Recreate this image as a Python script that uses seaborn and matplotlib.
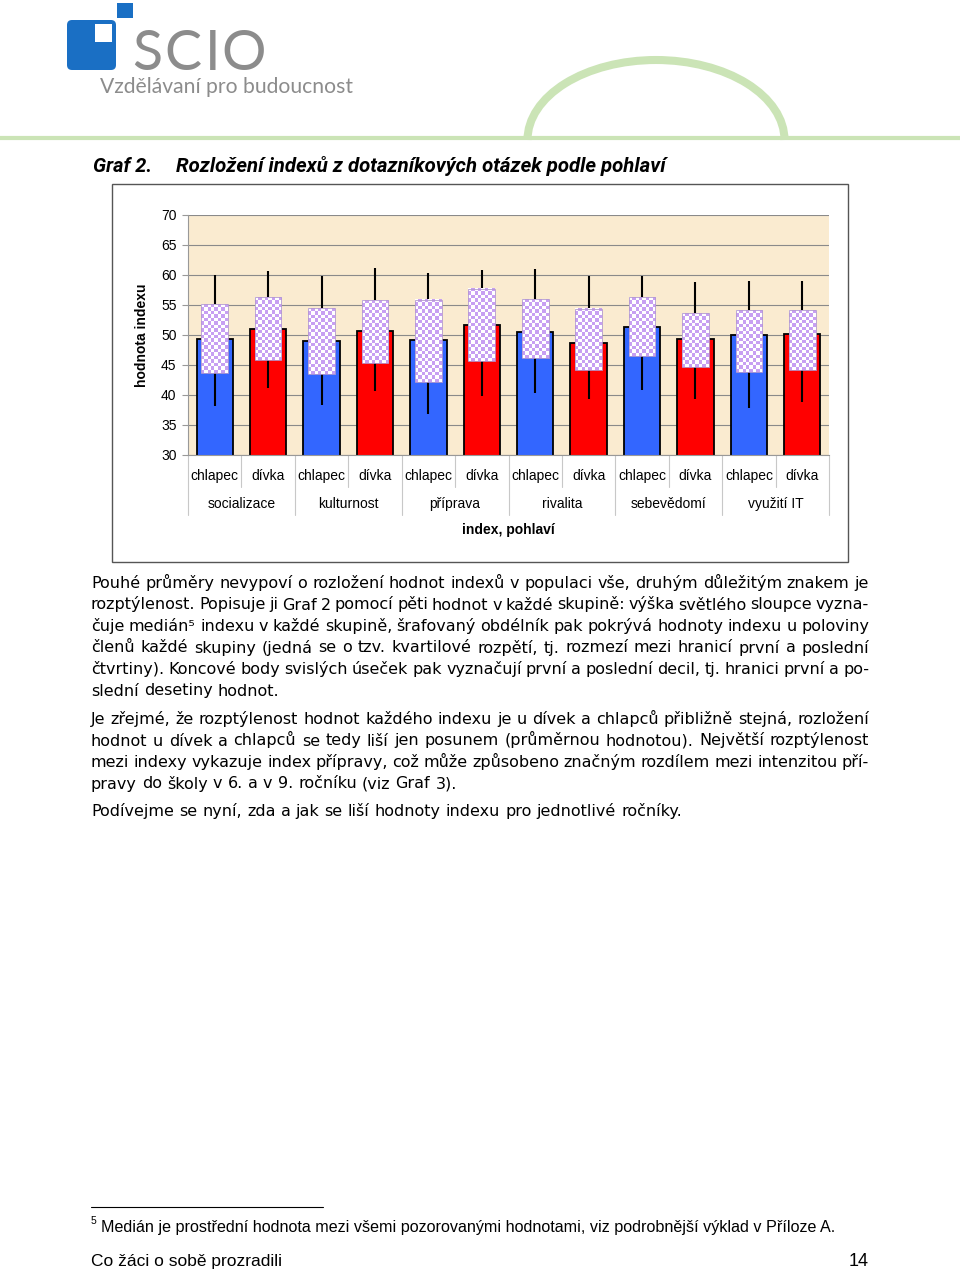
import numpy as np
import pandas as pd
import seaborn as sns
import matplotlib
matplotlib.use('Agg')
import matplotlib.pyplot as plt
from matplotlib import patches, transforms
from matplotlib.colors import ListedColormap

# hodnoty (chlapec, divka pro kazdy index)
skupiny = ['socializace', 'kulturnost', 'příprava', 'rivalita', 'sebevědomí', 'využití IT']
pohlavi = ['chlapec', 'dívka']
median = [49.4, 51.0, 49.0, 50.7, 49.2, 51.7, 50.5, 48.7, 51.3, 49.3, 50.0, 50.2]
kvartil_1 = [43.6, 45.8, 43.5, 45.4, 42.1, 45.6, 46.2, 44.1, 46.5, 44.6, 43.9, 44.2]
kvartil_3 = [55.1, 56.3, 54.5, 55.9, 55.8, 57.7, 56.0, 54.3, 56.3, 53.6, 54.2, 54.2]
decil_1 = [38.1, 41.2, 38.3, 40.6, 36.9, 39.9, 40.4, 39.3, 40.9, 39.3, 37.9, 38.8]
decil_9 = [60.0, 60.7, 59.9, 61.2, 60.4, 60.8, 61.0, 59.8, 59.9, 58.8, 59.0, 59.0]
y_ticks = [30, 35, 40, 45, 50, 55, 60, 65, 70]

odstavec_1 = [
    'Pouhé průměry nevypoví o rozložení hodnot indexů v populaci vše, druhým důležitým znakem je',
    'rozptýlenost. Popisuje ji Graf 2 pomocí pěti hodnot v každé skupině: výška světlého sloupce vyzna-',
    'čuje medián⁵ indexu v každé skupině, šrafovaný obdélník pak pokrývá hodnoty indexu u poloviny',
    'členů každé skupiny (jedná se o tzv. kvartilové rozpětí, tj. rozmezí mezi hranicí první a poslední',
    'čtvrtiny). Koncové body svislých úseček pak vyznačují první a poslední decil, tj. hranici první a po-',
    'slední desetiny hodnot.',
]
odstavec_2 = [
    'Je zřejmé, že rozptýlenost hodnot každého indexu je u dívek a chlapců přibližně stejná, rozložení',
    'hodnot u dívek a chlapců se tedy liší jen posunem (průměrnou hodnotou). Největší rozptýlenost',
    'mezi indexy vykazuje index přípravy, což může způsobeno značným rozdílem mezi intenzitou pří-',
    'pravy do školy v 6. a v 9. ročníku (viz Graf 3).',
]
odstavec_3 = ['Podívejme se nyní, zda a jak se liší hodnoty indexu pro jednotlivé ročníky.']

sns.set_theme(style='white')
plt.rcParams['font.family'] = ['Liberation Sans', 'DejaVu Sans']
plt.rcParams['text.color'] = 'black'
plt.rcParams['axes.labelcolor'] = 'black'
BODY = ['DejaVu Sans']
NARROW = ['Liberation Sans Narrow', 'Liberation Sans', 'DejaVu Sans']
TITLE = ['Roboto', 'DejaVu Sans']

W, H = 960, 1271
fig = plt.figure(figsize=(W / 100, H / 100), dpi=100)
fig.patch.set_facecolor('white')

# pozadi stranky v pixelech
bg = fig.add_axes([0, 0, 1, 1])
bg.set_xlim(0, W)
bg.set_ylim(H, 0)
bg.axis('off')
r = fig.canvas.get_renderer()


def fit(t, width):
    w = t.get_window_extent(r).width
    t.set_fontsize(t.get_fontsize() * width / w)


# hlavicka - logo
bg.add_patch(patches.FancyBboxPatch((69, 22), 45, 46, boxstyle='round,pad=2,rounding_size=5',
                                    fc='#1a6fc4', ec='none'))
bg.add_patch(patches.Rectangle((95, 24), 17, 18, fc='white', ec='none'))
bg.add_patch(patches.Rectangle((117, 3), 16, 15, fc='#1a6fc4', ec='none'))
for x, ch in zip([132, 164, 205, 221], 'SCIO'):
    bg.text(x, 70, ch, fontsize=40, color='#8c8c8c', family=['Lato', 'DejaVu Sans'],
            va='baseline')
t = bg.text(100, 93, 'Vzdělávaní pro budoucnost', fontsize=15, color='#8c8c8c',
            family=['Lato', 'DejaVu Sans'], va='baseline')
fit(t, 253)
bg.plot([0, W], [138, 138], color='#cbe4b6', lw=3, solid_capstyle='butt')
bg.add_patch(patches.Arc((656, 140), 257, 160, theta1=180, theta2=360, color='#cbe4b6', lw=5.8))

# nadpis
t = bg.text(93, 172, 'Graf 2.', fontsize=13, fontweight='bold', style='italic', family=TITLE, va='baseline')
fit(t, 59)
t = bg.text(176, 172, 'Rozložení indexů z dotazníkových otázek podle pohlaví', fontsize=13,
            fontweight='bold', style='italic', family=TITLE, va='baseline')
fit(t, 490)

# ramecek grafu
bg.add_patch(patches.Rectangle((112, 184), 736, 378, fill=False, ec='#555555', lw=1))

# graf
ax = fig.add_axes([188 / W, 1 - 455 / H, 641 / W, 240 / H])
df = pd.DataFrame({
    'kat': [s + '|' + p for s in skupiny for p in pohlavi],
    'pohlavi': pohlavi * len(skupiny),
    'median': median,
})
sns.barplot(data=df, x='kat', y='median', hue='pohlavi', dodge=False, width=0.68,
            palette={'chlapec': '#3366ff', 'dívka': '#ff0000'}, saturation=1,
            edgecolor='black', linewidth=1.3, legend=False, ax=ax)

pos = np.arange(len(df))
ax.vlines(pos, decil_1, decil_9, color='black', lw=1.5, zorder=2.5)

cmap = ListedColormap(['white', '#c79ff2'])
for i in pos:
    x0 = i - 0.25
    nrow = max(2, int(round((kvartil_3[i] - kvartil_1[i]) * 6 / 3.4)))
    grid = np.indices((nrow, 8)).sum(axis=0) % 2
    ax.imshow(grid, cmap=cmap, extent=(x0, x0 + 0.5, kvartil_1[i], kvartil_3[i]),
              aspect='auto', interpolation='nearest', zorder=3)
    ax.add_patch(patches.Rectangle((x0, kvartil_1[i]), 0.5, kvartil_3[i] - kvartil_1[i],
                                   fill=False, ec='#b39ad0', lw=0.6, zorder=3.1))

ax.set_xlim(-0.5, len(df) - 0.5)
ax.set_ylim(30, 70)
ax.set_yticks(y_ticks)
ax.set_facecolor('#faebd0')
ax.yaxis.grid(True, color='#8a8a8a', lw=0.8)
ax.set_axisbelow(True)
for s in ['top', 'right']:
    ax.spines[s].set_visible(False)
for s in ['left', 'bottom']:
    ax.spines[s].set_color('#999999')
    ax.spines[s].set_linewidth(0.8)
ax.tick_params(axis='y', left=True, length=4.3, width=0.8, color='#999999', pad=4,
               labelsize=10, labelcolor='black')
ax.set_xticks(pos)
ax.set_xticklabels(pohlavi * len(skupiny))
ax.tick_params(axis='x', length=0, pad=10, labelsize=10, labelcolor='black')
ax.set_xlabel('')
ax.set_ylabel('hodnota indexu', fontweight='bold', fontsize=10)
ax.yaxis.set_label_coords(-0.061, 0.5)

tr = transforms.blended_transform_factory(ax.transData, ax.transAxes)
for k, s in enumerate(skupiny):
    ax.text(2 * k + 0.5, -0.204, s, transform=tr, ha='center', va='center', fontsize=10)
ax.text((len(df) - 1) / 2, -0.3125, 'index, pohlaví', transform=tr, ha='center', va='center',
        fontsize=10, fontweight='bold')
for b in np.arange(-0.5, len(df), 1):
    konec = -0.25 if int(b + 0.5) % 2 == 0 else -0.133
    ax.plot([b, b], [0, konec], transform=tr, color='#c8c8c8', lw=0.8, clip_on=False)

# text stranky
space = (bg.text(0, 0, 'a a', fontsize=11.5, family=BODY).get_window_extent(r).width
         - bg.text(0, 0, 'aa', fontsize=11.5, family=BODY).get_window_extent(r).width)
for t in bg.texts[-2:]:
    t.remove()


def radek(text, y, justify=True, x0=91, x1=869, size=11.5):
    words = text.split(' ')
    objs = [bg.text(0, y, w, fontsize=size, family=BODY, va='baseline') for w in words]
    widths = [o.get_window_extent(r).width for o in objs]
    gap = (x1 - x0 - sum(widths)) / (len(words) - 1) if justify else space
    x = x0
    for o, w in zip(objs, widths):
        o.set_x(x)
        x += w + gap


for odst, y0 in [(odstavec_1, 588), (odstavec_2, 724), (odstavec_3, 816)]:
    for j, line in enumerate(odst):
        radek(line, y0 + j * 21.5, justify=(j < len(odst) - 1))

# poznamka pod carou a zapati
bg.plot([91, 323], [1207, 1207], color='black', lw=0.8)
bg.text(91, 1224, '5', fontsize=7.5, family=NARROW, va='baseline')
t = bg.text(101, 1232, 'Medián je prostřední hodnota mezi všemi pozorovanými hodnotami, viz podrobnější výklad v Příloze A.',
            fontsize=11, family=NARROW, va='baseline')
fit(t, 729)
t = bg.text(91, 1266, 'Co žáci o sobě prozradili', fontsize=13, family=NARROW, va='baseline')
fit(t, 190)
bg.text(869, 1266, '14', fontsize=13, family=NARROW, va='baseline', ha='right')

fig.savefig('out.png', dpi=100)
